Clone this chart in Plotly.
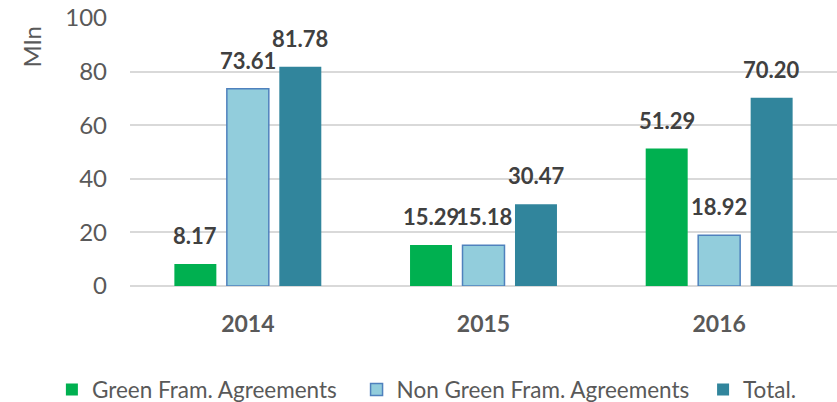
import plotly.graph_objects as go

categories = ["2014", "2015", "2016"]
green_vals = [8.17, 15.29, 51.29]
non_green_vals = [73.61, 15.18, 18.92]
total_vals = [81.78, 30.47, 70.20]
series_names = ["Green Fram. Agreements", "Non Green Fram. Agreements", "Total."]

FONT = "Lato, Open Sans, sans-serif"
series_vals = [green_vals, non_green_vals, total_vals]

fig = go.Figure()
fig.add_trace(go.Bar(
    x=categories, y=green_vals, name=series_names[0], legend="legend",
    marker=dict(color="#00B050", line=dict(width=0)),
))
fig.add_trace(go.Bar(
    x=categories, y=non_green_vals, name=series_names[1], legend="legend2",
    marker=dict(color="#92CDDC", line=dict(color="#4F81BD", width=1.5)),
))
fig.add_trace(go.Bar(
    x=categories, y=total_vals, name=series_names[2], legend="legend3",
    marker=dict(color="#31859C", line=dict(width=0)),
))

# data labels above each bar
SLOT = 52.5
annotations = []
for i, vals in enumerate(series_vals):
    for j, v in enumerate(vals):
        annotations.append(dict(
            x=j, y=v, xref="x", yref="y", text=f"<b>{v:.2f}</b>",
            showarrow=False, xanchor="center", yanchor="bottom",
            xshift=(i - 1) * SLOT, yshift=13,
            font=dict(family=FONT, size=22, color="#404040"),
        ))
annotations.append(dict(
    text="Mln", xref="paper", yref="paper", x=-0.138, y=0.892,
    xanchor="center", yanchor="middle",
    showarrow=False, textangle=-90,
    font=dict(family=FONT, size=24, color="#595959"),
))

leg_common = dict(
    orientation="h", yanchor="middle", y=0.03, xanchor="left",
    xref="container", yref="container",
    font=dict(family=FONT, size=22.5, color="#595959"),
    bgcolor="rgba(0,0,0,0)",
)

fig.update_layout(
    width=837, height=402,
    margin=dict(l=130, r=0, t=18, b=116),
    paper_bgcolor="white", plot_bgcolor="white",
    barmode="group", bargap=0.332, bargroupgap=0.2,
    font=dict(family=FONT, color="#595959"),
    showlegend=True,
    legend=dict(x=0.062, **leg_common),
    legend2=dict(x=0.426, **leg_common),
    legend3=dict(x=0.840, **leg_common),
    xaxis=dict(
        type="category", range=[-0.5, len(categories) - 0.5],
        showgrid=False, showline=False, ticks="", automargin=False,
        tickfont=dict(family=FONT, size=23, color="#595959", weight="bold"),
        ticklabelstandoff=22,
    ),
    yaxis=dict(
        range=[0, 100], dtick=20, showgrid=True, gridcolor="#D9D9D9", gridwidth=1.5,
        zeroline=True, zerolinecolor="#D9D9D9", zerolinewidth=1.5,
        tickfont=dict(family=FONT, size=24, color="#595959"),
        ticks="", ticklabelstandoff=22, automargin=False,
    ),
    annotations=annotations,
)

fig.write_html("out.html", config={"displayModeBar": False},
               post_script="document.body.style.margin='0';")
